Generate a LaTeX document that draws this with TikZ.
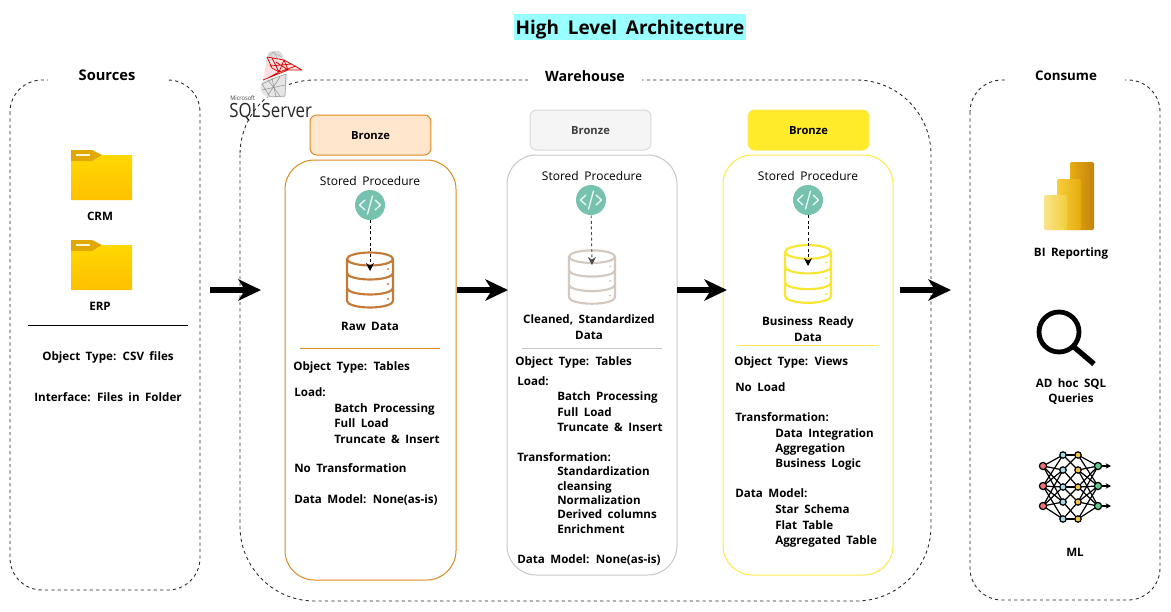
\documentclass[tikz,border=0pt]{standalone}
\usepackage{fontspec}
\setmainfont{Open Sans}[BoldFont={* Bold},WordSpace=1.8]
\newfontfamily\logofont{Open Sans}[WordSpace=0.3]
\usetikzlibrary{arrows.meta,calc}
\definecolor{bronzeline}{HTML}{E08A1E}
\definecolor{bronzefill}{HTML}{FFE6CC}
\definecolor{silverline}{HTML}{C8C8C8}
\definecolor{silverfill}{HTML}{F5F5F5}
\definecolor{goldline}{HTML}{FFE94D}
\definecolor{goldfill}{HTML}{FFEB2A}
\definecolor{brownc}{HTML}{C67A38}
\definecolor{taupe}{HTML}{D3C9C0}
\definecolor{yel}{HTML}{F7E733}
\definecolor{tealc}{HTML}{76C2AF}
\definecolor{foldA}{HTML}{FFD800}
\definecolor{foldB}{HTML}{FFC000}
\definecolor{foldT}{HTML}{E0A800}
\definecolor{titlebg}{HTML}{99FFFF}
\definecolor{nnred}{HTML}{F0707A}
\definecolor{nncyan}{HTML}{A8DCEC}
\definecolor{nnyel}{HTML}{F6C445}
\definecolor{nngreen}{HTML}{5CC98F}
\definecolor{pbA}{HTML}{E8AD10}
\definecolor{pbB}{HTML}{C4820E}
\definecolor{pbC}{HTML}{F5CE3A}
\definecolor{pbD}{HTML}{E6AC0E}
\definecolor{pbE}{HTML}{F9E48A}
\definecolor{pbF}{HTML}{F2CE3C}
\tikzset{
  outer/.style={draw=black!85,dashed,line width=0.65pt,dash pattern=on 2.4pt off 2.4pt,rounded corners=#1},
  stage/.style={line width=0.75pt,rounded corners=22pt,fill=white},
  badge/.style={line width=0.75pt,rounded corners=5pt,minimum width=90.7pt,minimum height=30pt,inner sep=0pt,text height=7pt,text depth=0pt,font=\fontsize{8.4}{10}\selectfont\bfseries},
  head/.style={fill=white,inner sep=0pt,minimum height=14pt,text height=8pt,text depth=0pt},
  body/.style={inner sep=0pt,font=\fontsize{8.7}{10}\selectfont\bfseries,anchor=west,text height=8.4pt,text depth=1.3pt},
  captxt/.style={inner sep=0pt,font=\fontsize{8.7}{11.6}\selectfont\bfseries,align=center},
  proc/.style={inner sep=0pt,font=\fontsize{9}{10}\selectfont},
  flow/.style={-{Stealth[length=17pt,width=16pt,inset=5pt]},line width=4pt},
  trig/.style={-{Stealth[length=6pt,width=6pt]},dashed,dash pattern=on 2.2pt off 2pt,line width=0.7pt},
  pics/folder/.style={code={
    \shade[top color=foldA,bottom color=foldB] (0,11) -- (21,11) -- (31,5) -- (61,5) -- (61,50) -- (0,50) -- cycle;
    \fill[foldT] (0,0) -- (21,0) -- (31,5) -- (21,11) -- (0,11) -- cycle;
    \fill[white!85!foldA] (5,3.5) rectangle (19,6);
  }},
  pics/dbicon/.style={code={
    \draw[#1,line width=1.6pt,line cap=round]
      (-23,-22) arc[start angle=180,end angle=-180,x radius=23,y radius=6.5]
      (-23,-22) -- (-23,20) arc[start angle=180,end angle=0,x radius=23,y radius=6.5] -- (23,-22)
      (-23,-8) arc[start angle=180,end angle=0,x radius=23,y radius=6.5]
      (-23,7) arc[start angle=180,end angle=0,x radius=23,y radius=6.5];
    \fill[#1] (18,-12) circle (1.1) (18,3) circle (1.1) (18,18) circle (1.1);
  }},
  pics/codeicon/.style={code={
    \fill[tealc] (0,0) circle (15);
    \draw[white!85!tealc,line width=1pt,line cap=round,line join=round]
      (-5,-5) -- (-10.5,0) -- (-5,5) (5,-5) -- (10.5,0) -- (5,5) (2.5,-9) -- (-2.5,9);
  }},
}
\begin{document}
\begin{tikzpicture}[x=0.75pt,y=-0.75pt]
\useasboundingbox (0,0) rectangle (1171,611);
\fill[white] (0,0) rectangle (1171,611);

% title
\node[fill=titlebg,minimum width=174pt,minimum height=19.5pt,inner sep=0pt,text height=13.5pt,text depth=2.5pt,font=\fontsize{14.2}{16}\selectfont\bfseries] (title) at (630,27) {High Level Architecture};

% outer containers
\draw[outer=24pt] (10,80) rectangle (200,590);
\node[head,minimum width=88pt,font=\fontsize{11}{12}\selectfont\bfseries] (sources) at (107,75) {Sources};
\draw[outer=56pt] (240,80) rectangle (931,601);
\node[head,minimum width=86pt,font=\fontsize{10.7}{12}\selectfont\bfseries] (warehouse) at (585,76) {Warehouse};
\draw[outer=24pt] (970,80) rectangle (1160,600);
\node[head,minimum width=88pt,font=\fontsize{10}{12}\selectfont\bfseries] (consume) at (1066,75) {Consume};

% sources
\pic at (71,150) {folder};
\node[captxt] (crm) at (100,216) {CRM};
\pic at (71,240) {folder};
\node[captxt] (erp) at (100,306) {ERP};
\coordinate (srcruleA) at (28,325);
\coordinate (srcruleB) at (188,325);
\draw[line width=0.7pt] (srcruleA) -- (srcruleB);
\node[captxt] (objsrc) at (108,357) {Object Type: CSV files};
\node[captxt] (ifsrc) at (108,397) {Interface: Files in Folder};

% SQL Server logo
\begin{scope}
  \fill[black!14] (268,57) .. controls (266,52) and (272,50) .. (279,51) .. controls (284,54) and (283,58) .. (284,62) -- cycle;
  \fill[black!10] (263,81) .. controls (258,88) and (260,94) .. (268,97) -- (285,97) -- (287,74) -- cycle;
  \draw[black!45,line width=0.35pt] (262,84) -- (275,78) -- (286,74) -- (285,96) -- (270,97) -- cycle
    (262,90) -- (285,85) (272,78) -- (276,97) (280,77) -- (268,95) (268,80) -- (280,96);
  \draw[black!30,line width=0.35pt] (269,56) -- (274,52) -- (278,60) (272,52) -- (282,57);
  \fill[red!12] (267,57) -- (284,60) -- (302,70) -- (288,70) -- (263,80) -- cycle;
  \draw[red!85!black,line width=0.55pt,line join=round] (267,57) -- (284,60) -- (302,70) -- (288,70) -- (263,80) (272,68) -- (267,57) (272,58) -- (279,72) -- (296,66) (276,62) -- (288,70) -- (284,60) (270,66) -- (292,64) (279,72) -- (268,78) (284,60) -- (279,72) (272,68) -- (279,72);
  \node[inner sep=0pt,anchor=west,text height=3.2pt,text depth=0pt,font=\fontsize{4.7}{5}\selectfont,text=black!75] (ms) at (230,98) {\scalebox{.9}[1]{Microsoft}};
  \node[inner sep=0pt,anchor=west,text height=10.5pt,text depth=0pt,font=\logofont\fontsize{14.7}{15}\selectfont,text=black!85] (sql) at (229,110) {\scalebox{.86}[1]{SQL Server}};
\end{scope}

% stages
\node[badge,draw=bronzeline,fill=bronzefill] (b1) at (370.5,135) {Bronze};
\node[badge,draw=silverline!70,fill=silverfill,text=black!75] (b2) at (590.5,130) {Bronze};
\node[badge,draw=goldline,fill=goldfill] (b3) at (808.5,130) {Bronze};

\draw[stage,draw=bronzeline] (285,160) rectangle (456,580);
\draw[stage,draw=silverline] (507,155) rectangle (677,575);
\draw[stage,draw=goldline] (723,155) rectangle (893,575);

\node[proc] (sp1) at (370,181) {Stored Procedure};
\node[proc] (sp2) at (592,176) {Stored Procedure};
\node[proc] (sp3) at (808,176) {Stored Procedure};

\pic at (370,205) {codeicon};
\pic at (591,200) {codeicon};
\pic at (808,200) {codeicon};
\node[circle,minimum size=22.5pt,inner sep=0pt] (c1) at (370,205) {};
\node[circle,minimum size=22.5pt,inner sep=0pt] (c2) at (591,200) {};
\node[circle,minimum size=22.5pt,inner sep=0pt] (c3) at (808,200) {};

\pic at (370,281) {dbicon=brownc};
\pic[yscale=0.97] at (592,278) {dbicon=taupe};
\pic[yscale=1.05] at (808,275) {dbicon=yel};
\coordinate (d1) at (370,271);
\coordinate (d2) at (592,265);
\coordinate (d3) at (808,266);
\draw[trig] (c1) -- (d1);
\draw[trig,draw=black!70] (c2) -- (d2);
\draw[trig] (c3) -- (d3);

\node[captxt] (raw) at (370,326) {Raw Data};
\node[captxt] (clean) at (589,327) {Cleaned, Standardized\\Data};
\node[captxt] (ready) at (808,329) {Business Ready\\Data};

\coordinate (r1a) at (300,348); \coordinate (r1b) at (440,348);
\coordinate (r2a) at (522,348); \coordinate (r2b) at (662,348);
\coordinate (r3a) at (738,345); \coordinate (r3b) at (878,345);
\draw[draw=bronzeline,line width=0.7pt] (r1a) -- (r1b);
\draw[draw=silverline,line width=0.7pt] (r2a) -- (r2b);
\draw[draw=goldline,line width=0.7pt] (r3a) -- (r3b);

% bronze text
\node[body] (a1) at (293,366) {Object Type: Tables};
\node[body] (a2) at (294,392) {Load:};
\node[body] (a3) at (334,408) {Batch Processing};
\node[body] (a4) at (334,423) {Full Load};
\node[body] (a5) at (334,439) {Truncate \& Insert};
\node[body] (a6) at (294,468) {No Transformation};
\node[body] (a7) at (294,499) {Data Model: None(as-is)};

% silver text
\node[body] (m1) at (515,361) {Object Type: Tables};
\node[body] (m2) at (517,381) {Load:};
\node[body] (m3) at (557,396) {Batch Processing};
\node[body] (m4) at (557,412) {Full Load};
\node[body] (m5) at (557,427) {Truncate \& Insert};
\node[body] (m6) at (517,457) {Transformation:};
\node[body] (m7) at (557,471) {Standardization};
\node[body] (m8) at (557,486) {cleansing};
\node[body] (m9) at (557,500) {Normalization};
\node[body] (m10) at (557,514) {Derived columns};
\node[body] (m11) at (557,529) {Enrichment};
\node[body] (m12) at (517,559) {Data Model: None(as-is)};

% gold text
\node[body] (g1) at (734,361) {Object Type: Views};
\node[body] (g2) at (735,387) {No Load};
\node[body] (g3) at (735,417) {Transformation:};
\node[body] (g4) at (775,433) {Data Integration};
\node[body] (g5) at (775,448) {Aggregation};
\node[body] (g6) at (775,463) {Business Logic};
\node[body] (g7) at (735,493) {Data Model:};
\node[body] (g8) at (775,509) {Star Schema};
\node[body] (g9) at (775,525) {Flat Table};
\node[body] (g10) at (775,540) {Aggregated Table};

% flow arrows
\coordinate (f1a) at (210,290); \coordinate (f1b) at (261,290);
\coordinate (f2a) at (457,290); \coordinate (f2b) at (508,290);
\coordinate (f3a) at (677,290); \coordinate (f3b) at (727,290);
\coordinate (f4a) at (900,290); \coordinate (f4b) at (951,290);
\draw[flow] (f1a) -- (f1b);
\draw[flow] (f2a) -- (f2b);
\draw[flow] (f3a) -- (f3b);
\draw[flow] (f4a) -- (f4b);

% consume: Power BI
\begin{scope}
  \shade[left color=pbA,right color=pbB,rounded corners=1.5pt] (1070,162) rectangle (1094,230);
  \shade[left color=pbC,right color=pbD,rounded corners=1.5pt] (1057,179) rectangle (1081,230);
  \shade[left color=pbE,right color=pbF,rounded corners=1.5pt] (1044,195) rectangle (1067,230);
\end{scope}
\node[captxt] (bi) at (1071,253) {BI Reporting};

% magnifier
\draw[line width=3.6pt] (1059,332) circle (20);
\draw[line width=4pt] (1074,347) -- (1094,364);
\node[captxt] (adhoc) at (1071,391.5) {AD hoc SQL\\Queries};

% neural network
\begin{scope}[line width=.9pt]
  \foreach \y in {466,486,506} {
    \foreach \z in {455,470,487,502,519} {
      \pgfmathparse{abs(\y-\z)<40?1:0}
      \ifnum\pgfmathresult=1
        \draw (1043,\y) -- (1063,\z);
        \draw (1078,\z) -- (1098,\y);
      \fi
    }
    \draw[-{Stealth[length=4pt,width=4pt]}] (1098,\y) -- (1111,\y);
  }
  \draw (1063,455) -- (1078,455) (1063,487) -- (1078,487) (1063,519) -- (1078,519);
  \draw (1063,455) -- (1078,470) -- (1063,487) -- (1078,502) -- (1063,519);
  \draw (1078,455) -- (1063,470) -- (1078,487) -- (1063,502) -- (1078,519);
  \foreach \y in {466,486,506} {
    \filldraw[fill=nnred,draw=black] (1043,\y) circle (3.6);
    \filldraw[fill=nngreen,draw=black] (1098,\y) circle (3.6);
  }
  \foreach \z in {455,470,487,502,519} {
    \filldraw[fill=nncyan,draw=black] (1063,\z) circle (3.2);
    \filldraw[fill=nnyel,draw=black] (1078,\z) circle (3.2);
  }
\end{scope}
\node[captxt] (ml) at (1075,552) {ML};
\end{tikzpicture}
\end{document}
